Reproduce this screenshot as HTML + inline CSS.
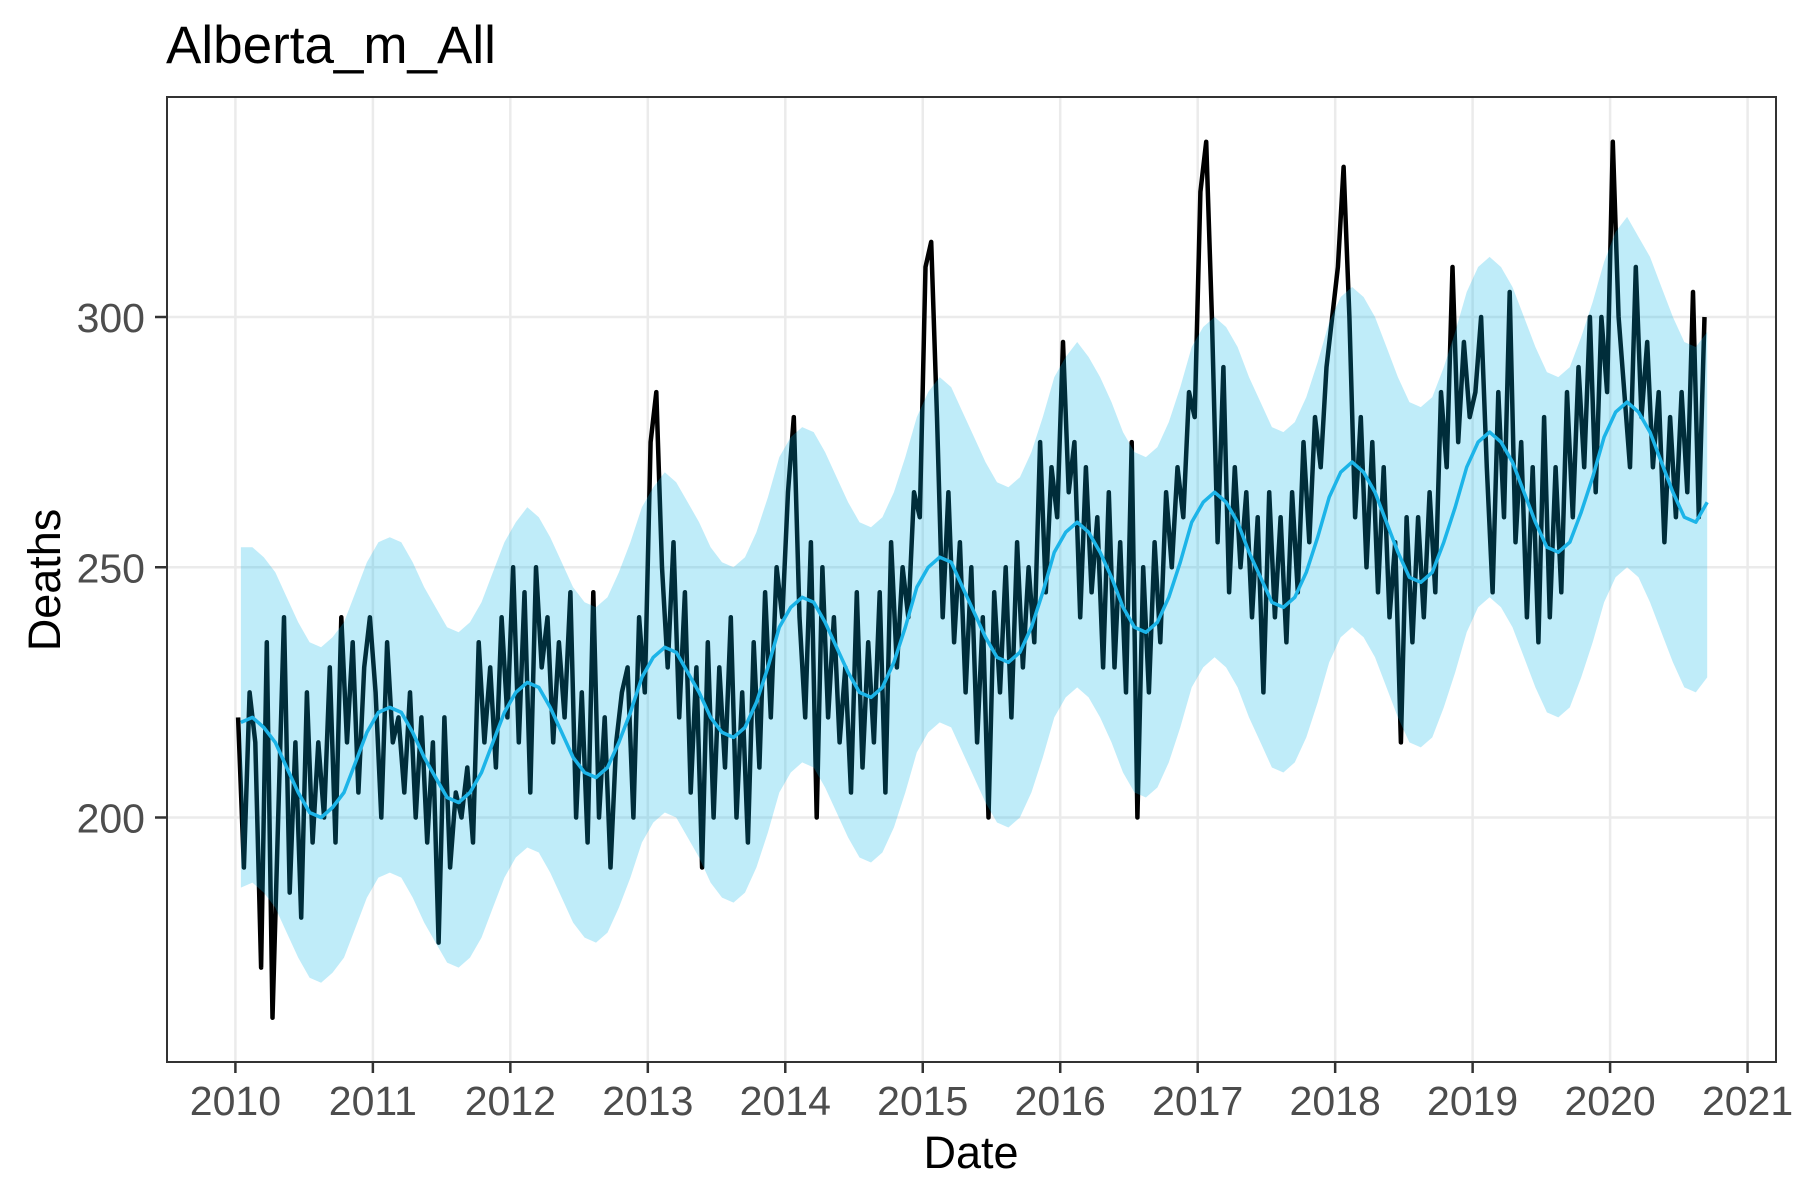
<!DOCTYPE html>
<html><head><meta charset="utf-8">
<style>
html,body{margin:0;padding:0;background:#fff;}
svg{display:block;font-family:"Liberation Sans",Arial,sans-serif;}
</style></head>
<body>
<svg id="chart" width="1800" height="1200" viewBox="0 0 1800 1200" xmlns="http://www.w3.org/2000/svg">
<rect x="0" y="0" width="1800" height="1200" fill="#fff"/>
<text x="166" y="63" font-size="53" fill="#000">Alberta_m_All</text>
<defs><clipPath id="pc"><rect x="167" y="97" width="1609" height="965"/></clipPath></defs>
<g id="grid"></g>
<g id="marks" clip-path="url(#pc)"></g>
<rect x="167" y="97" width="1609" height="965" fill="none" stroke="#333" stroke-width="2"/>
<g id="axes"></g>
<text x="971" y="1168" font-size="45" text-anchor="middle" fill="#000">Date</text>
<text x="0" y="0" font-size="45" text-anchor="middle" fill="#000" transform="translate(60,580) rotate(-90)">Deaths</text>
</svg>
<script>
const xTicks = [2010,2011,2012,2013,2014,2015,2016,2017,2018,2019,2020,2021];
const yTicks = [200,250,300];
const obsStart = 2010.02, obsStep = 1/24;
const observed = [
220,190,225,215,170,235,160,200,240,185,215,180,225,195,215,200,230,195,240,215,235,205,230,240,
225,200,235,215,220,205,225,200,220,195,215,175,220,190,205,200,210,195,235,215,230,210,240,220,
250,215,245,205,250,230,240,215,235,220,245,200,225,195,245,200,220,190,215,225,230,200,240,225,
275,285,250,230,255,220,245,205,230,190,235,200,230,210,240,200,225,195,235,210,245,220,250,240,
265,280,240,220,255,200,250,220,240,215,230,205,245,210,235,215,245,205,255,230,250,240,265,260,
310,315,280,240,265,235,255,225,250,215,240,200,245,225,250,220,255,230,250,235,275,245,270,260,
295,265,275,240,270,245,260,230,265,230,255,225,275,200,250,225,255,235,265,250,270,260,285,280,
325,335,300,255,290,245,270,250,265,240,260,225,265,240,260,235,265,245,275,255,280,270,290,300,
310,330,300,260,280,250,275,245,270,240,255,215,260,235,260,240,265,245,285,270,310,275,295,280,
285,300,270,245,285,260,305,255,275,240,270,235,280,240,270,245,285,260,290,270,300,265,300,285,
335,300,285,270,310,280,295,270,285,255,280,260,285,265,305,260,300];
const fitStart = 2010.04, fitStep = 1/12;
const fitted = [
219,220,218,215,210,205,201,200,202,205,211,217,
221,222,221,217,212,208,204,203,205,209,215,221,
225,227,226,222,217,212,209,208,210,215,221,228,
232,234,233,229,225,220,217,216,218,223,230,238,
242,244,243,239,234,229,225,224,226,231,238,246,
250,252,251,246,241,236,232,231,233,238,245,253,
257,259,257,253,248,242,238,237,239,244,251,259,
263,265,263,259,253,248,243,242,244,249,256,264,
269,271,269,265,259,253,248,247,249,255,262,270,
275,277,275,271,265,259,254,253,255,261,268,276,
281,283,281,277,271,265,260,259,263];
const upper = [
254,254,252,249,244,239,235,234,236,239,245,251,
255,256,255,251,246,242,238,237,239,243,249,255,
259,262,260,256,251,246,243,242,244,249,255,262,
266,269,267,263,259,254,251,250,252,257,264,272,
276,278,277,273,268,263,259,258,260,265,272,280,
285,288,286,281,276,271,267,266,268,273,280,288,
292,295,292,288,283,277,273,272,274,279,286,294,
298,300,298,294,288,283,278,277,279,284,291,299,
304,306,304,300,294,288,283,282,284,290,297,305,
310,312,310,306,300,294,289,288,290,296,303,311,
317,320,316,312,306,300,295,294,297];
const lower = [
186,187,185,182,177,172,168,167,169,172,178,184,
188,189,188,184,179,175,171,170,172,176,182,188,
192,194,193,189,184,179,176,175,177,182,188,195,
199,201,200,196,192,187,184,183,185,190,197,205,
209,211,210,206,201,196,192,191,193,198,205,213,
217,219,218,213,208,203,199,198,200,205,212,220,
224,226,224,220,215,209,205,204,206,211,218,226,
230,232,230,226,220,215,210,209,211,216,223,231,
236,238,236,232,226,220,215,214,216,222,229,237,
242,244,242,238,232,226,221,220,222,228,235,243,
248,250,248,243,237,231,226,225,228];

const NS='http://www.w3.org/2000/svg';
function xs(t){return 235.4+(t-2010)*137.47;}
function ys(v){return 817.5-(v-200)*5.005;}
function mk(tag,attrs,parent){const e=document.createElementNS(NS,tag);for(const k in attrs)e.setAttribute(k,attrs[k]);parent.appendChild(e);return e;}
const grid=document.getElementById('grid'),marks=document.getElementById('marks'),axes=document.getElementById('axes');
xTicks.forEach(t=>{
  const g=mk('line',{x1:xs(t),x2:xs(t),y1:97,y2:1062,stroke:'#ebebeb','stroke-width':2.5},grid);
  
  
  const tk=mk('line',{x1:xs(t),x2:xs(t),y1:1062,y2:1073,stroke:'#333','stroke-width':2.5},axes);
  
  
  const tl=mk('text',{x:xs(t),y:1115,'font-size':41,'text-anchor':'middle',fill:'#4d4d4d'},axes);
  tl.textContent=t;
  
  
});
yTicks.forEach(v=>{
  const g=mk('line',{x1:167,x2:1776,y1:ys(v),y2:ys(v),stroke:'#ebebeb','stroke-width':2.5},grid);
  
  
  const tk=mk('line',{x1:155,x2:167,y1:ys(v),y2:ys(v),stroke:'#333','stroke-width':2.5},axes);
  
  
  const tl=mk('text',{x:145,y:ys(v)+15,'font-size':41,'text-anchor':'end',fill:'#4d4d4d'},axes);
  tl.textContent=v;
  
  
});
let d='';
observed.forEach((v,i)=>{d+=(i?'L':'M')+xs(obsStart+i*obsStep).toFixed(1)+','+ys(v).toFixed(1);});
const ol=mk('path',{d:d,fill:'none',stroke:'#000','stroke-width':4.5,'stroke-linejoin':'round'},marks);


let bd='';
upper.forEach((v,i)=>{bd+=(i?'L':'M')+xs(fitStart+i*fitStep).toFixed(1)+','+ys(v).toFixed(1);});
for(let i=lower.length-1;i>=0;i--){bd+='L'+xs(fitStart+i*fitStep).toFixed(1)+','+ys(lower[i]).toFixed(1);}
bd+='Z';
const band=mk('path',{d:bd,fill:'rgb(0,180,230)','fill-opacity':0.25,stroke:'none'},marks);


let fd='';
fitted.forEach((v,i)=>{fd+=(i?'L':'M')+xs(fitStart+i*fitStep).toFixed(1)+','+ys(v).toFixed(1);});
const fl=mk('path',{d:fd,fill:'none',stroke:'#1cb4e8','stroke-width':3.5,'stroke-linejoin':'round'},marks);


</script>
</body></html>
